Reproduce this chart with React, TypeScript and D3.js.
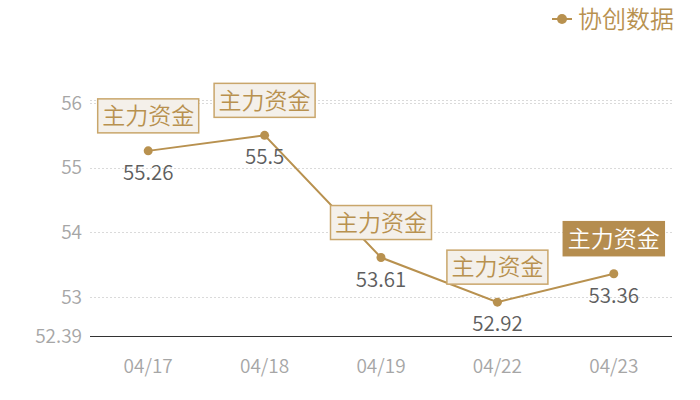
import * as d3 from "d3";
import React, {useEffect, useRef} from "react";

const dates = ["04/17", "04/18", "04/19", "04/22", "04/23"];
const values = [55.26, 55.5, 53.61, 52.92, 53.36];
const yTicks = [53, 54, 55, 56];
const yMin = 52.39;
const yMax = 56.05;
const seriesName = "协创数据";
const markText = "主力资金";

const gold = "#b8914f";
const font = "'Noto Sans CJK SC', 'Noto Sans', sans-serif";

const App: React.FC = () => {
  const svgRef = useRef<SVGSVGElement | null>(null);

  useEffect(() => {
    if (!svgRef.current) {
      return
    }
    const svg = d3.select(svgRef.current);
    svg.selectAll('*').remove();

    const left = 90;
    const right = 672;

    const x = d3.scaleBand<string>().domain(dates).range([left, right]);
    const y = d3.scaleLinear().domain([yMin, yMax]).range([336.4, 99.8]);
    const cx = (d: string) => x(d)! + x.bandwidth() / 2;

    // grid lines
    svg.append('g')
      .selectAll('line')
      .data([...yTicks, yMax])
      .enter().append('line')
      .attr('x1', left)
      .attr('x2', right)
      .attr('y1', d => Math.round(y(d)) + 0.5)
      .attr('y2', d => Math.round(y(d)) + 0.5)
      .attr('stroke', '#dadada')
      .attr('stroke-dasharray', '2,2');

    // baseline
    svg.append('line')
      .attr('x1', left)
      .attr('x2', right)
      .attr('y1', Math.round(y(yMin)) + 0.5)
      .attr('y2', Math.round(y(yMin)) + 0.5)
      .attr('stroke', '#333')
      .attr('stroke-width', 1);

    // y labels
    svg.append('g')
      .selectAll('text')
      .data([yMin, ...yTicks])
      .enter().append('text')
      .attr('x', left - 8)
      .attr('y', d => y(d))
      .attr('dy', '0.35em')
      .attr('text-anchor', 'end')
      .attr('fill', '#a6a6a6')
      .attr('font-size', 19)
      .attr('font-weight', 350)
      .attr('font-family', font)
      .text(d => String(d));

    // x labels
    svg.append('g')
      .selectAll('text')
      .data(dates)
      .enter().append('text')
      .attr('x', d => cx(d))
      .attr('y', 373)
      .attr('text-anchor', 'middle')
      .attr('fill', '#a6a6a6')
      .attr('font-size', 19)
      .attr('font-weight', 350)
      .attr('font-family', font)
      .text(d => d);

    const points = dates.map((d, i) => ({date: d, value: values[i]}));

    const line = d3.line<{date: string, value: number}>()
      .x(d => cx(d.date))
      .y(d => y(d.value));

    svg.append('path')
      .datum(points)
      .attr('d', line)
      .attr('fill', 'none')
      .attr('stroke', gold)
      .attr('stroke-width', 2);

    svg.append('g')
      .selectAll('circle')
      .data(points)
      .enter().append('circle')
      .attr('cx', d => cx(d.date))
      .attr('cy', d => y(d.value))
      .attr('r', 4.5)
      .attr('fill', gold);

    // value labels
    svg.append('g')
      .selectAll('text')
      .data(points)
      .enter().append('text')
      .attr('x', d => cx(d.date))
      .attr('y', d => y(d.value) + 29)
      .attr('text-anchor', 'middle')
      .attr('fill', '#5e5e5e')
      .attr('font-size', 20.5)
      .attr('font-weight', 350)
      .attr('font-family', font)
      .text(d => String(d.value));

    // mark boxes
    const boxW = 101;
    const boxH = 34;
    const marks = svg.append('g')
      .selectAll('g')
      .data(points)
      .enter().append('g')
      .attr('transform', d => `translate(${cx(d.date)},${y(d.value) - 18 - boxH / 2})`);

    marks.append('rect')
      .attr('x', -boxW / 2)
      .attr('y', -boxH / 2)
      .attr('width', boxW)
      .attr('height', boxH)
      .attr('fill', (_, i) => i === points.length - 1 ? '#b58d4f' : '#f4f0ea')
      .attr('stroke', (_, i) => i === points.length - 1 ? '#b58d4f' : '#c9a66b')
      .attr('stroke-width', 1.5);

    marks.append('text')
      .attr('text-anchor', 'middle')
      .attr('dy', '0.36em')
      .attr('fill', (_, i) => i === points.length - 1 ? '#fff' : gold)
      .attr('font-size', 23)
      .attr('font-weight', 350)
      .attr('font-family', font)
      .text(markText);

    // legend
    const legend = svg.append('g').attr('transform', 'translate(552,19)');
    legend.append('line')
      .attr('x1', 0).attr('x2', 20)
      .attr('y1', 0).attr('y2', 0)
      .attr('stroke', gold)
      .attr('stroke-width', 2);
    legend.append('circle')
      .attr('cx', 10).attr('cy', 0).attr('r', 5)
      .attr('fill', gold);
    legend.append('text')
      .attr('x', 26)
      .attr('dy', '0.36em')
      .attr('fill', gold)
      .attr('font-size', 24)
      .attr('font-weight', 350)
      .attr('font-family', font)
      .text(seriesName);
  }, []);

  return (
    <svg
      ref={svgRef}
      width={700}
      height={400}
      style={{position: 'absolute', left: 0, top: 0, background: '#fff'}}
    />
  );
}

export default App;
